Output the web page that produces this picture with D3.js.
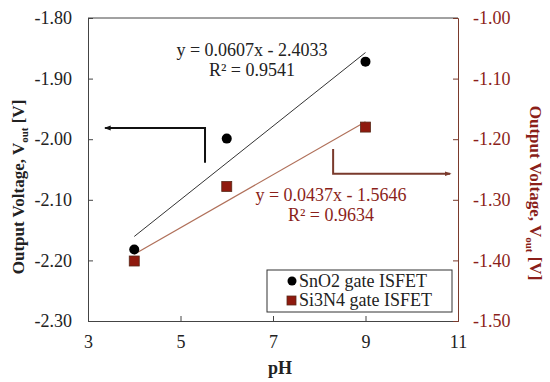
<!DOCTYPE html>
<html>
<head>
<meta charset="utf-8">
<script src="https://cdn.jsdelivr.net/npm/d3@7"></script>
<style>
  body { margin: 0; background: #fff; }
  svg text { font-family: "Liberation Serif", "Times New Roman", serif; }
</style>
</head>
<body>
<div id="chart"></div>
<script>
// data
var pH = [4, 6, 9];
var sno2 = [-2.182, -1.999, -1.872];
var si3n4 = [-1.401, -1.278, -1.180];
var xTicks = [3, 5, 7, 9, 11];
var yLeftTicks = [-2.30, -2.20, -2.10, -2.00, -1.90, -1.80];
var yRightTicks = [-1.50, -1.40, -1.30, -1.20, -1.10, -1.00];
var fitSnO2 = [0.0607, -2.4033];
var fitSi3N4 = [0.0437, -1.5646];
var labelsSnO2 = ["y = 0.0607x - 2.4033", "R\u00b2 = 0.9541"];
var labelsSi3N4 = ["y = 0.0437x - 1.5646", "R\u00b2 = 0.9634"];
var legendNames = ["SnO2 gate ISFET", "Si3N4 gate ISFET"];

var width = 550, height = 382;
var margin = { top: 18, right: 92, bottom: 61, left: 88 };
var red = "#8b1f1a", brown = "#7a3a2c", trendRed = "#b0705a";
var fs = 18;

var svg = d3.select("#chart").append("svg")
  .attr("width", width).attr("height", height);

var x = d3.scaleLinear().domain([3, 11]).range([margin.left, width - margin.right]);
var yL = d3.scaleLinear().domain([-2.30, -1.80]).range([height - margin.bottom, margin.top]);
var yR = d3.scaleLinear().domain([-1.50, -1.00]).range([height - margin.bottom, margin.top]);

// frame top
svg.append("line").attr("x1", x(3)).attr("x2", x(11)).attr("y1", yL(-1.80)).attr("y2", yL(-1.80))
  .attr("stroke", "#444").attr("stroke-width", 1);

var fmt = function (d) { return d.toFixed(2); };

var gx = svg.append("g").attr("transform", "translate(0," + yL(-2.30) + ")")
  .call(d3.axisBottom(x).tickValues(xTicks).tickSize(-5).tickPadding(14).tickFormat(function (d) { return String(d); }));
gx.select(".domain").attr("stroke", "#444");
gx.selectAll(".tick line").attr("stroke", "#444");
gx.selectAll("text").attr("font-size", fs).attr("fill", "#222");

var gl = svg.append("g").attr("transform", "translate(" + x(3) + ",0)")
  .call(d3.axisLeft(yL).tickValues(yLeftTicks).tickSize(-5).tickPadding(16).tickFormat(fmt));
gl.select(".domain").attr("stroke", "#444");
gl.selectAll(".tick line").attr("stroke", "#444");
gl.selectAll("text").attr("font-size", fs).attr("fill", "#222");

var gr = svg.append("g").attr("transform", "translate(" + x(11) + ",0)")
  .call(d3.axisRight(yR).tickValues(yRightTicks).tickSize(-5).tickPadding(15).tickFormat(fmt));
gr.select(".domain").attr("stroke", brown);
gr.selectAll(".tick line").attr("stroke", brown);
gr.selectAll("text").attr("font-size", fs).attr("fill", red);

// axis titles
svg.append("text").attr("x", 280).attr("y", 374).attr("text-anchor", "middle")
  .attr("font-size", fs).attr("font-weight", "bold").attr("fill", "#222").text("pH");

var tl = svg.append("text").attr("transform", "translate(24,187) rotate(-90)")
  .attr("text-anchor", "middle").attr("font-size", 17).attr("font-weight", "bold").attr("fill", "#222");
tl.append("tspan").text("Output Voltage, V");
tl.append("tspan").attr("font-size", 11).attr("dy", 4).text("out");
tl.append("tspan").attr("dy", -4).text(" [V]");

var tr = svg.append("text").attr("transform", "translate(530,193) rotate(90)")
  .attr("text-anchor", "middle").attr("font-size", 17).attr("font-weight", "bold").attr("fill", red);
tr.append("tspan").text("Output Voltage, V");
tr.append("tspan").attr("font-size", 11).attr("dy", 4).text("out");
tr.append("tspan").attr("dy", -4).text(" [V]");

// trend lines
var ends = [d3.min(pH), d3.max(pH)];
svg.append("line")
  .attr("x1", x(ends[0])).attr("y1", yL(fitSnO2[0] * ends[0] + fitSnO2[1]))
  .attr("x2", x(ends[1])).attr("y2", yL(fitSnO2[0] * ends[1] + fitSnO2[1]))
  .attr("stroke", "#333").attr("stroke-width", 1);
svg.append("line")
  .attr("x1", x(ends[0])).attr("y1", yR(fitSi3N4[0] * ends[0] + fitSi3N4[1]))
  .attr("x2", x(ends[1])).attr("y2", yR(fitSi3N4[0] * ends[1] + fitSi3N4[1]))
  .attr("stroke", trendRed).attr("stroke-width", 1.2);

// points
svg.selectAll("circle.sno2").data(pH).enter().append("circle")
  .attr("class", "sno2")
  .attr("cx", function (d) { return x(d); })
  .attr("cy", function (d, i) { return yL(sno2[i]); })
  .attr("r", 5).attr("fill", "#000");

svg.selectAll("rect.si").data(pH).enter().append("rect")
  .attr("class", "si")
  .attr("x", function (d) { return x(d) - 5; })
  .attr("y", function (d, i) { return yR(si3n4[i]) - 5; })
  .attr("width", 10).attr("height", 10)
  .attr("fill", "#8f1a0e").attr("stroke", "#5a2a1a").attr("stroke-width", 0.8);

// equations
svg.selectAll("text.eq1").data(labelsSnO2).enter().append("text")
  .attr("x", 252).attr("y", function (d, i) { return 56 + i * 20; })
  .attr("text-anchor", "middle").attr("font-size", fs).attr("fill", "#222")
  .text(function (d) { return d; });
svg.selectAll("text.eq2").data(labelsSi3N4).enter().append("text")
  .attr("x", 331).attr("y", function (d, i) { return 201 + i * 20; })
  .attr("text-anchor", "middle").attr("font-size", fs).attr("fill", red)
  .text(function (d) { return d; });

// arrows
var defs = svg.append("defs");
function marker(id, col) {
  defs.append("marker").attr("id", id).attr("viewBox", "0 0 10 10")
    .attr("markerUnits", "userSpaceOnUse")
    .attr("refX", 8).attr("refY", 5).attr("markerWidth", 7).attr("markerHeight", 7)
    .attr("orient", "auto")
    .append("path").attr("d", "M0,1.5 L10,5 L0,8.5 Z").attr("fill", col);
}
marker("arrBlack", "#111");
marker("arrBrown", brown);

var line = d3.line();
svg.append("path")
  .attr("d", line([[x(5.53), yL(-2.039)], [x(5.53), yL(-1.9815)], [x(3.37), yL(-1.9815)]]))
  .attr("fill", "none").attr("stroke", "#111").attr("stroke-width", 2)
  .attr("marker-end", "url(#arrBlack)");
svg.append("path")
  .attr("d", line([[x(8.30), yR(-1.216)], [x(8.30), yR(-1.257)], [x(10.83), yR(-1.257)]]))
  .attr("fill", "none").attr("stroke", brown).attr("stroke-width", 2)
  .attr("marker-end", "url(#arrBrown)");

// legend
var lg = svg.append("g");
lg.append("rect").attr("x", 267).attr("y", 270).attr("width", 185).attr("height", 42)
  .attr("fill", "#fff").attr("stroke", "#333").attr("stroke-width", 1);
lg.append("circle").attr("cx", 292).attr("cy", 281).attr("r", 4.5).attr("fill", "#000");
lg.append("rect").attr("x", 287).attr("y", 296).attr("width", 9).attr("height", 9)
  .attr("fill", "#8f1a0e").attr("stroke", "#5a2a1a").attr("stroke-width", 0.8);
lg.selectAll("text").data(legendNames).enter().append("text")
  .attr("x", 299).attr("y", function (d, i) { return 287 + i * 19; })
  .attr("font-size", fs).attr("fill", "#222")
  .text(function (d) { return d; });
</script>
</body>
</html>
